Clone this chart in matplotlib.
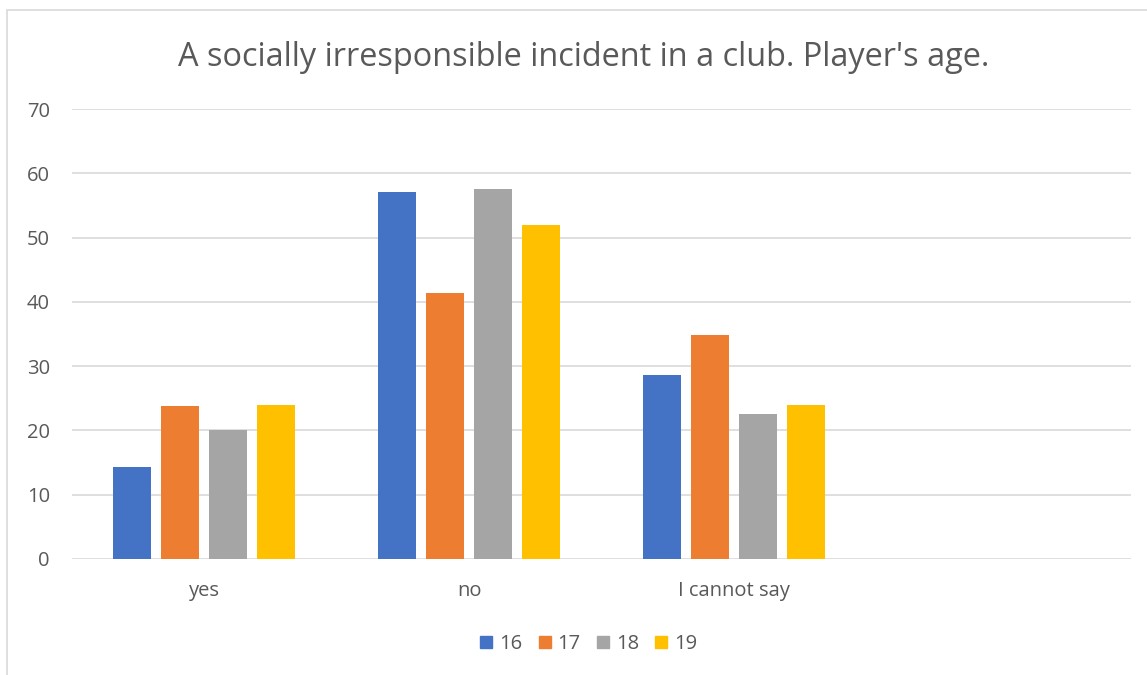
import numpy as np
import matplotlib.pyplot as plt
from matplotlib.lines import Line2D
from matplotlib.patches import Rectangle

plt.rcParams['font.family'] = ['Open Sans', 'DejaVu Sans']

# survey answers by player age (%)
categories = ['yes', 'no', 'I cannot say', '']
ages = ['16', '17', '18', '19']
age16 = [14.3, 57.1, 28.6]
age17 = [23.8, 41.3, 34.8]
age18 = [20.0, 57.5, 22.5]
age19 = [24.0, 52.0, 24.0]
colors = ['#4472c4', '#ed7d31', '#a5a5a5', '#ffc000']

text_col = '#595959'
grid_col = '#d9d9d9'

fig = plt.figure(figsize=(11.47, 6.75), dpi=100)
ax = fig.add_axes([0.0628, 0.172, 0.9232, 0.6665])

# light frame around the chart area
fig.patches.append(Rectangle((7.5 / 1147, -0.05), 1.1, 1 - 10 / 675 + 0.05,
                             transform=fig.transFigure, fill=False,
                             edgecolor=grid_col, linewidth=1.2))

pitch = 0.1815
width = 0.1437
x = np.arange(len(age16))
for j, (vals, c, lab) in enumerate(zip([age16, age17, age18, age19], colors, ages)):
    ax.bar(x + (j - 1.5) * pitch, vals, width, color=c, label=lab, zorder=3)

ax.set_xlim(-0.5, len(categories) - 0.5)
ax.set_ylim(0, 70)
ax.set_yticks(range(0, 71, 10))
ax.set_xticks(range(len(categories)))
ax.set_xticklabels(categories)
ax.grid(axis='y', color=grid_col, linewidth=1.2, zorder=0)
ax.tick_params(length=0, labelsize=14.5, colors=text_col)
ax.tick_params(axis='x', pad=16)
ax.tick_params(axis='y', pad=16)
for s in ax.spines.values():
    s.set_visible(False)

fig.text(0.509, 1 - 57 / 675, "A socially irresponsible incident in a club. Player's age.",
         ha='center', va='center', fontsize=23.4, color=text_col)

handles = [Line2D([], [], marker='s', linestyle='none', markersize=8.5,
                  markerfacecolor=c, markeredgecolor=c) for c in colors]
fig.legend(handles, ages, loc='center', bbox_to_anchor=(0.512, 1 - 644 / 675),
           ncol=4, frameon=False, fontsize=14.5, labelcolor=text_col,
           handletextpad=0.2, columnspacing=0.65, handlelength=0.9)

fig.savefig('out.png', dpi=100, facecolor='white')
